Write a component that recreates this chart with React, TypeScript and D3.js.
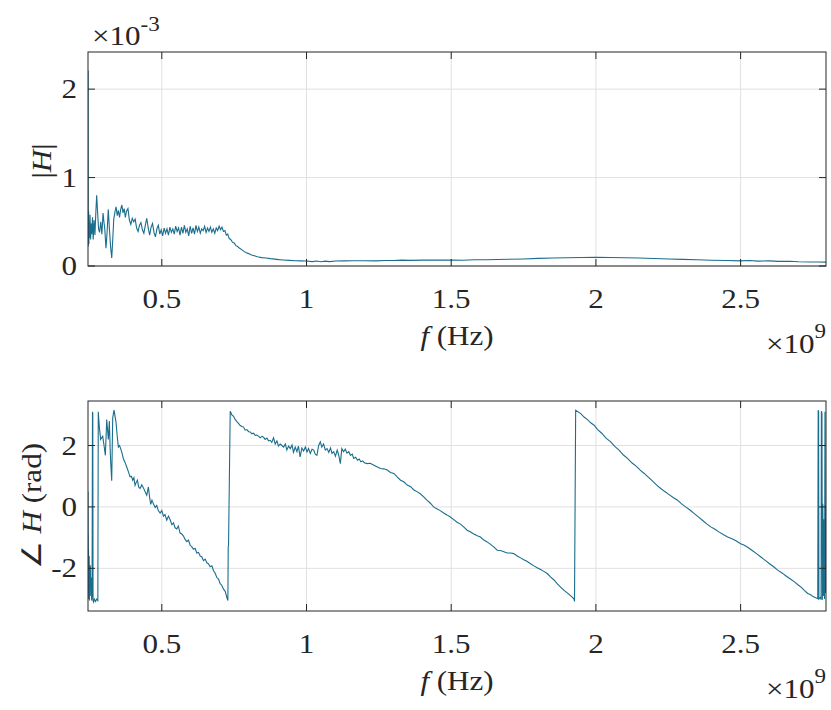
import React from "react";
import * as d3 from "d3";

// frequency axis in units of 1e9 Hz
const xTicks = [0.5, 1, 1.5, 2, 2.5];
const magTicks = [0, 1, 2];
const phaseTicks = [-2, 0, 2];

// |H| (units of 1e-3)
const magF = [0.245,0.2453,0.2457,0.2462,0.2467,0.2472,0.248,0.249,0.2505,0.252,0.254,0.256,0.258,0.2605,0.263,0.266,0.269,0.272,0.275,0.278,0.2815,0.285,0.289,0.293,0.297,0.3,0.303,0.307,0.311,0.315,0.319,0.323,0.327,0.3305,0.334,0.338,0.342,0.346,0.35,0.354,0.358,0.362,0.366,0.37,0.374,0.378,0.383,0.388,0.393,0.398,0.403,0.408,0.413,0.418,0.423,0.428,0.433,0.438,0.443,0.448,0.453,0.458,0.463,0.468,0.473,0.478,0.483,0.488,0.493,0.498,0.503,0.508,0.513,0.518,0.523,0.528,0.533,0.538,0.543,0.548,0.553,0.558,0.563,0.568,0.573,0.578,0.583,0.588,0.593,0.598,0.603,0.608,0.613,0.618,0.623,0.628,0.633,0.638,0.643,0.648,0.653,0.658,0.663,0.668,0.673,0.678,0.683,0.688,0.693,0.698,0.703,0.708,0.713,0.718,0.723,0.728,0.733,0.738,0.744,0.75,0.756,0.762,0.769,0.776,0.784,0.792,0.8,0.81,0.82,0.83,0.845,0.86,0.875,0.89,0.905,0.92,0.94,0.96,0.98,1.0,1.02,1.035,1.05,1.065,1.08,1.1,1.13,1.16,1.2,1.24,1.27,1.3,1.33,1.36,1.4,1.45,1.5,1.54,1.58,1.62,1.66,1.7,1.75,1.8,1.85,1.9,1.95,2.0,2.05,2.1,2.15,2.2,2.25,2.3,2.35,2.4,2.45,2.5,2.53,2.56,2.6,2.63,2.67,2.7,2.74,2.77,2.795];
const magV = [0.30,2.21,0.22,0.55,0.28,0.62,0.25,0.5,0.32,0.58,0.3,0.48,0.36,0.55,0.3,0.52,0.35,0.6,0.8,0.62,0.42,0.38,0.5,0.36,0.6,0.5,0.42,0.2,0.38,0.64,0.42,0.22,0.09,0.3,0.53,0.61,0.67,0.57,0.63,0.55,0.64,0.69,0.6,0.65,0.55,0.62,0.65,0.52,0.47,0.54,0.5,0.53,0.43,0.39,0.46,0.49,0.41,0.37,0.46,0.54,0.43,0.35,0.44,0.48,0.38,0.33,0.42,0.46,0.36,0.41,0.34,0.43,0.37,0.42,0.35,0.44,0.38,0.42,0.36,0.45,0.39,0.43,0.35,0.44,0.37,0.46,0.38,0.42,0.34,0.45,0.37,0.43,0.36,0.46,0.39,0.44,0.37,0.42,0.4,0.45,0.38,0.43,0.39,0.44,0.38,0.42,0.37,0.43,0.4,0.45,0.41,0.44,0.39,0.4,0.35,0.36,0.31,0.3,0.27,0.26,0.23,0.22,0.2,0.185,0.165,0.15,0.14,0.125,0.115,0.105,0.095,0.09,0.083,0.078,0.072,0.068,0.064,0.06,0.058,0.056,0.05,0.056,0.048,0.055,0.05,0.056,0.058,0.06,0.06,0.058,0.063,0.062,0.066,0.064,0.066,0.067,0.068,0.065,0.07,0.07,0.074,0.077,0.08,0.086,0.09,0.093,0.096,0.098,0.096,0.094,0.09,0.085,0.08,0.075,0.07,0.065,0.062,0.058,0.062,0.055,0.058,0.052,0.054,0.048,0.046,0.045,0.044];

// angle H (rad)
const phaseF = [0.245,0.2454,0.2458,0.2462,0.2467,0.2472,0.2478,0.2485,0.2492,0.25,0.2508,0.2518,0.253,0.2545,0.256,0.2575,0.259,0.2605,0.2615,0.2625,0.264,0.267,0.271,0.275,0.279,0.2805,0.2842,0.2888,0.2958,0.3004,0.305,0.3075,0.3096,0.3153,0.3188,0.3215,0.3234,0.3269,0.3304,0.335,0.3385,0.3419,0.346,0.35,0.354,0.358,0.3625,0.3672,0.373,0.3788,0.3845,0.3903,0.395,0.3996,0.4035,0.4076,0.4117,0.4157,0.42,0.4249,0.431,0.4365,0.442,0.448,0.4538,0.458,0.4618,0.466,0.471,0.477,0.4826,0.488,0.4941,0.5,0.5057,0.511,0.5172,0.523,0.5288,0.535,0.5403,0.546,0.5518,0.557,0.5633,0.569,0.5749,0.58,0.5864,0.592,0.598,0.604,0.6095,0.615,0.621,0.627,0.6325,0.638,0.6441,0.65,0.6556,0.661,0.6672,0.673,0.6787,0.684,0.6902,0.696,0.7017,0.707,0.7133,0.719,0.7248,0.7283,0.7295,0.7306,0.7364,0.742,0.748,0.7535,0.7594,0.765,0.771,0.7768,0.7825,0.788,0.794,0.8,0.8056,0.811,0.817,0.823,0.8286,0.835,0.84,0.846,0.8517,0.857,0.863,0.869,0.8748,0.88,0.886,0.892,0.8978,0.903,0.909,0.915,0.9209,0.927,0.932,0.938,0.944,0.95,0.955,0.961,0.967,0.972,0.978,0.984,0.99,0.996,1.0017,1.007,1.013,1.019,1.025,1.03,1.036,1.042,1.0478,1.053,1.059,1.065,1.0709,1.077,1.083,1.088,1.094,1.1,1.106,1.111,1.117,1.122,1.128,1.134,1.14,1.146,1.152,1.158,1.163,1.17,1.176,1.182,1.188,1.194,1.2,1.21,1.22,1.233,1.245,1.256,1.267,1.279,1.29,1.302,1.313,1.325,1.336,1.348,1.36,1.37,1.383,1.393,1.405,1.416,1.428,1.439,1.45,1.462,1.474,1.485,1.497,1.51,1.52,1.532,1.544,1.555,1.567,1.578,1.59,1.601,1.613,1.624,1.636,1.647,1.659,1.67,1.682,1.693,1.705,1.716,1.728,1.74,1.751,1.763,1.774,1.786,1.797,1.809,1.82,1.832,1.843,1.855,1.866,1.878,1.89,1.901,1.913,1.924,1.926,1.93,1.9475,1.96,1.97,1.982,1.9937,2.006,2.02,2.035,2.051,2.065,2.08,2.095,2.109,2.125,2.14,2.153,2.167,2.18,2.195,2.21,2.224,2.238,2.253,2.268,2.282,2.296,2.31,2.325,2.34,2.355,2.37,2.384,2.397,2.41,2.426,2.44,2.455,2.47,2.484,2.5,2.513,2.527,2.54,2.555,2.57,2.585,2.6,2.614,2.628,2.643,2.657,2.672,2.686,2.7,2.71,2.72,2.732,2.742,2.75,2.758,2.7665,2.768,2.7695,2.7705,2.775,2.778,2.779,2.781,2.7825,2.784,2.786,2.788,2.79,2.7915,2.793,2.7945];
const phaseV = [0.5,-2.2,-0.9,-2.8,-1.4,-3.0,-1.8,-2.6,-1.6,-3.05,-2.0,-2.4,-1.9,-2.9,-2.3,-3.05,-2.9,3.1,3.05,-3.05,-3.1,-3.0,-3.08,-3.0,-3.05,3.1,2.6,2.2,2.3,2.0,1.68,2.3,2.85,2.2,2.8,1.9,1.46,0.85,2.9,3.15,2.95,2.75,2.3,1.95,2.0,1.9,1.75,1.57,1.45,1.3,1.15,0.98,1.0,0.87,0.95,0.7,0.8,0.87,0.65,0.6,0.72,0.62,0.5,0.38,0.65,0.3,0.08,0.22,0.1,-0.02,0.05,-0.12,-0.2,-0.12,-0.3,-0.25,-0.43,-0.3,-0.42,-0.58,-0.52,-0.68,-0.72,-0.62,-0.85,-0.88,-0.95,-1.05,-1.13,-1.08,-1.25,-1.3,-1.38,-1.35,-1.5,-1.48,-1.6,-1.62,-1.75,-1.7,-1.82,-1.85,-1.95,-1.92,-2.08,-2.15,-2.3,-2.35,-2.5,-2.55,-2.68,-2.75,-2.95,-3.05,-1.3,-1.25,3.12,3.0,2.95,2.85,2.78,2.72,2.65,2.62,2.6,2.5,2.52,2.45,2.44,2.38,2.4,2.33,2.34,2.3,2.25,2.3,2.27,2.2,2.24,2.15,2.17,2.1,2.25,2.05,2.15,1.98,2.05,2.0,1.95,2.05,1.85,1.98,1.9,2.02,1.78,1.95,1.8,1.98,1.63,1.92,1.82,1.95,1.79,1.9,1.74,1.88,1.85,1.72,1.68,2.0,2.12,1.95,2.05,1.85,1.9,1.78,1.92,1.74,1.8,1.65,1.85,1.7,1.41,1.9,1.8,1.88,1.75,1.8,1.68,1.72,1.58,1.62,1.52,1.56,1.47,1.5,1.44,1.41,1.42,1.36,1.3,1.25,1.24,1.2,1.12,1.09,0.98,0.87,0.82,0.71,0.66,0.56,0.49,0.43,0.33,0.22,0.12,0.0,-0.06,-0.12,-0.2,-0.26,-0.33,-0.42,-0.5,-0.56,-0.66,-0.76,-0.82,-0.88,-0.94,-0.98,-1.08,-1.14,-1.22,-1.3,-1.41,-1.42,-1.46,-1.5,-1.5,-1.52,-1.6,-1.66,-1.72,-1.78,-1.85,-1.92,-1.98,-2.04,-2.1,-2.17,-2.28,-2.38,-2.5,-2.61,-2.72,-2.8,-2.9,-2.99,-3.08,3.15,3.04,2.92,2.85,2.74,2.66,2.52,2.4,2.24,2.12,1.97,1.85,1.69,1.58,1.43,1.32,1.2,1.09,0.98,0.85,0.71,0.6,0.5,0.4,0.3,0.22,0.1,0.0,-0.1,-0.22,-0.33,-0.45,-0.56,-0.65,-0.72,-0.82,-0.9,-0.98,-1.04,-1.1,-1.2,-1.25,-1.33,-1.42,-1.52,-1.63,-1.74,-1.85,-1.95,-2.06,-2.15,-2.25,-2.35,-2.44,-2.55,-2.62,-2.72,-2.82,-2.86,-2.92,-2.95,-2.99,3.15,3.1,-3.0,-2.95,-3.02,3.12,3.05,-3.02,0.1,-2.9,-0.4,-3.0,3.1,-2.8,0.05];

const W = 831;
const H = 710;
const L = 88;
const R = 826;
const TOP1 = 52;
const BOT1 = 266;
const TOP2 = 401;
const BOT2 = 611;
const LINE = "#1a6d8d";
const AXIS = "#262626";
const GRID = "#e0e0e0";
const FONT = "'Liberation Serif', 'Times New Roman', serif";
const FS = 27;
const SX = 1.15;

function T({ x, y, anchor = "middle", size = FS, rot = 0, children }: any) {
  const tr = `translate(${x},${y})${rot ? ` rotate(${rot})` : ""} scale(${SX},1)`;
  return (
    <text transform={tr} textAnchor={anchor} fontSize={size} fontFamily={FONT} fill="#262626">
      {children}
    </text>
  );
}

function Panel({ top, bottom, yDomain, yTicks, fs, vs, id }: any) {
  const x = d3.scaleLinear().domain([0.245, 2.795]).range([L, R]);
  const y = d3.scaleLinear().domain(yDomain).range([bottom, top]);
  const pts = fs.map((f: number, i: number) => [f, vs[i]]);
  const line = d3
    .line<number[]>()
    .x((d) => x(d[0]))
    .y((d) => y(d[1]));
  const tl = 7;
  return (
    <g>
      <defs>
        <clipPath id={id}>
          <rect x={L} y={top} width={R - L} height={bottom - top} />
        </clipPath>
      </defs>
      <rect x={L} y={top} width={R - L} height={bottom - top} fill="#fff" />
      {xTicks.map((t) => (
        <line key={"gx" + t} x1={x(t)} x2={x(t)} y1={top} y2={bottom} stroke={GRID} strokeWidth={1} />
      ))}
      {yTicks.map((t: number) => (
        <line key={"gy" + t} x1={L} x2={R} y1={y(t)} y2={y(t)} stroke={GRID} strokeWidth={1} />
      ))}
      <path d={line(pts) || ""} fill="none" stroke={LINE} strokeWidth={1.1} clipPath={`url(#${id})`} />
      <rect x={L} y={top} width={R - L} height={bottom - top} fill="none" stroke={AXIS} strokeWidth={1} />
      {xTicks.map((t) => (
        <g key={"tx" + t}>
          <line x1={x(t)} x2={x(t)} y1={bottom} y2={bottom - tl} stroke={AXIS} />
          <line x1={x(t)} x2={x(t)} y1={top} y2={top + tl} stroke={AXIS} />
          <T x={x(t)} y={bottom + 42}>{String(t)}</T>
        </g>
      ))}
      {yTicks.map((t: number) => (
        <g key={"ty" + t}>
          <line x1={L} x2={L + tl} y1={y(t)} y2={y(t)} stroke={AXIS} />
          <line x1={R} x2={R - tl} y1={y(t)} y2={y(t)} stroke={AXIS} />
          <T x={77} y={y(t) + 9} anchor="end">{String(t)}</T>
        </g>
      ))}
      <T x={457} y={bottom + 79}>
        <tspan fontStyle="italic">f</tspan> (Hz)
      </T>
      <T x={R} y={bottom + 87} anchor="end">
        ×10<tspan fontSize={20} dy={-15}>9</tspan>
      </T>
    </g>
  );
}

export default function App() {
  return (
    <svg width={W} height={H} style={{ position: "absolute", left: 0, top: 0, background: "#fff" }}>
      <rect width={W} height={H} fill="#fff" />
      <Panel top={TOP1} bottom={BOT1} yDomain={[0, 2.42]} yTicks={magTicks} fs={magF} vs={magV} id="c1" />
      <Panel top={TOP2} bottom={BOT2} yDomain={[-3.39, 3.45]} yTicks={phaseTicks} fs={phaseF} vs={phaseV} id="c2" />
      <T x={92} y={45} anchor="start">
        ×10<tspan fontSize={20} dy={-14}>-3</tspan>
      </T>
      <T x={51} y={161} rot={-90}>
        |<tspan fontStyle="italic">H</tspan>|
      </T>
      <T x={41} y={506} rot={-90}>
        ∠ <tspan fontStyle="italic">H</tspan> (rad)
      </T>
    </svg>
  );
}
